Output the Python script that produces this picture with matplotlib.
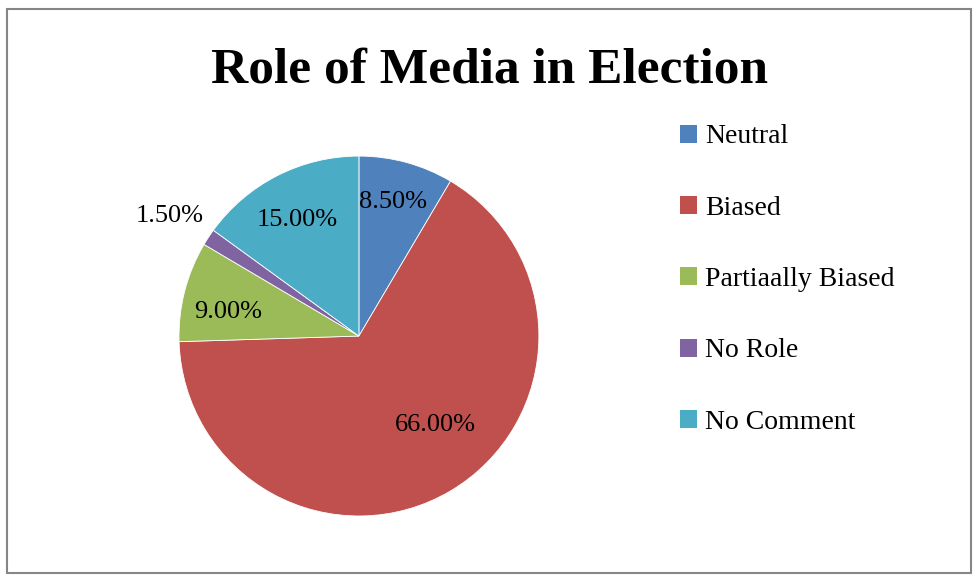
import matplotlib.pyplot as plt
import numpy as np
from matplotlib.patches import Rectangle, Patch

# data
categorias = ['Neutral', 'Biased', 'Partiaally Biased', 'No Role', 'No Comment']
porcentajes = [8.5, 66.0, 9.0, 1.5, 15.0]
colores = ['#4F81BD', '#C0504D', '#9BBB59', '#8064A2', '#4BACC6']

# where each label sits (radius fraction, angle shift in degrees)
dist_etiqueta = [0.77, 0.65, 0.74, 1.245, 0.73]
giro_etiqueta = [1, 10, 4, 1, 1]

plt.rcParams['font.family'] = ['Liberation Serif', 'DejaVu Serif']

fig = plt.figure(figsize=(9.78, 5.75), dpi=100)
fig.patches.append(Rectangle((0.007, 0.004), 0.986, 0.981, transform=fig.transFigure,
                             fill=False, edgecolor='#868686', linewidth=1.5))

ax = fig.add_axes([0.183, 0.1026, 0.368, 0.626])
wedges, _ = ax.pie(porcentajes, colors=colores, startangle=90, counterclock=False,
                   radius=1, wedgeprops=dict(edgecolor='white', linewidth=0.6))
ax.set_xlim(-1, 1)
ax.set_ylim(-1, 1)
ax.set_aspect('equal')
ax.axis('off')

for w, p, d, g in zip(wedges, porcentajes, dist_etiqueta, giro_etiqueta):
    ang = np.deg2rad((w.theta1 + w.theta2) / 2 + g)
    ax.text(d * np.cos(ang), d * np.sin(ang), f'{p:.2f}%', ha='center', va='center',
            fontsize=19, color='black', clip_on=False)

fig.text(0.501, 0.878, 'Role of Media in Election', ha='center', va='center',
         fontsize=37, fontweight='bold')

handles = [Patch(facecolor=c, edgecolor='none') for c in colores]
fig.legend(handles, categorias, loc='upper left', bbox_to_anchor=(0.681, 0.808),
           frameon=False, fontsize=20, handlelength=0.62, handleheight=0.62,
           handletextpad=0.3, labelspacing=1.67, borderpad=0)

fig.savefig('out.png', dpi=100)
